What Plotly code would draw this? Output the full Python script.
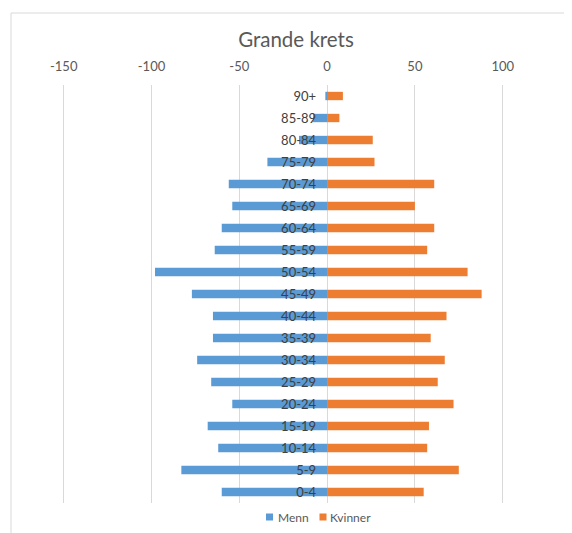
import plotly.graph_objects as go

age_groups = ["0-4", "5-9", "10-14", "15-19", "20-24", "25-29", "30-34", "35-39",
              "40-44", "45-49", "50-54", "55-59", "60-64", "65-69", "70-74",
              "75-79", "80-84", "85-89", "90+"]
menn = [-60, -83, -62, -68, -54, -66, -74, -65, -65, -77, -98, -64, -60, -54, -56,
        -34, -16, -8, -1]
kvinner = [55, 75, 57, 58, 72, 63, 67, 59, 68, 88, 80, 57, 61, 50, 61,
           27, 26, 7, 9]
x_ticks = [-150, -100, -50, 0, 50, 100]
series_names = ["Menn", "Kvinner"]

BLUE = "#5B9BD5"
ORANGE = "#ED7D31"
GRID = "#D9D9D9"
FONT = "Lato"

# page is offset by the default 8px body margin
OFF = 8
W, H = 572 - OFF, 533 - OFF
MT = 85 - OFF
MB = H - (503 - OFF)
ML, MR = 54, 0
PX_PER_UNIT = 1.756
zero_px = 327.1 - OFF
xr = [-(zero_px - ML) / PX_PER_UNIT, (W - MR - zero_px) / PX_PER_UNIT]

pw = W - ML - MR
ph = H - MT - MB


def px_x(p):
    """page x pixel -> paper x"""
    return (p - OFF - ML) / pw


def px_y(p):
    """page y pixel -> paper y"""
    return (H - MB - (p - OFF)) / ph


fig = go.Figure()
fig.add_trace(go.Bar(y=age_groups, x=menn, orientation="h", name=series_names[0],
                     marker=dict(color=BLUE, line=dict(width=0)), width=0.38,
                     showlegend=False))
fig.add_trace(go.Bar(y=age_groups, x=kvinner, orientation="h", name=series_names[1],
                     marker=dict(color=ORANGE, line=dict(width=0)), width=0.38,
                     showlegend=False))

zero_pos = (0 - xr[0]) / (xr[1] - xr[0])

# chart-area border (left and top edges visible in the reference)
shapes = [
    dict(type="line", xref="paper", yref="paper",
         x0=px_x(11), x1=px_x(11), y0=px_y(540), y1=px_y(13),
         line=dict(color=GRID, width=1), layer="below"),
    dict(type="line", xref="paper", yref="paper",
         x0=px_x(11), x1=px_x(580), y0=px_y(13), y1=px_y(13),
         line=dict(color=GRID, width=1), layer="below"),
]
annotations = []
# legend (square marker + label)
for name, color, sq_x, tx_x in [(series_names[0], BLUE, 266, 277),
                                 (series_names[1], ORANGE, 319.5, 329)]:
    shapes.append(dict(type="rect", xref="paper", yref="paper",
                       x0=px_x(sq_x), x1=px_x(sq_x + 7),
                       y0=px_y(520.5), y1=px_y(513.5),
                       line=dict(width=0), fillcolor=color))
    annotations.append(dict(text=name, xref="paper", yref="paper",
                            x=px_x(tx_x), y=px_y(517), xanchor="left",
                            yanchor="middle", showarrow=False,
                            font=dict(size=12, color="#595959", family=FONT),
                            xshift=-1))

fig.update_layout(
    width=W, height=H,
    margin=dict(l=ML, r=MR, t=MT, b=MB, autoexpand=False),
    paper_bgcolor="white", plot_bgcolor="white",
    barmode="overlay",
    showlegend=False,
    font=dict(family=FONT, color="#595959", size=13),
    title=dict(text="Grande krets", x=px_x(296), xref="paper", xanchor="center",
               y=1 - (40 - OFF) / H, yref="container", yanchor="middle",
               font=dict(size=20.5, color="#595959", family=FONT)),
    xaxis=dict(range=xr, side="top", tickvals=x_ticks, ticktext=[str(v) for v in x_ticks],
               showgrid=True, gridcolor=GRID, gridwidth=1,
               zeroline=True, zerolinecolor=GRID, zerolinewidth=1,
               showline=False, ticks="outside", ticklen=8, tickcolor="rgba(0,0,0,0)",
               tickfont=dict(size=13, color="#595959")),
    yaxis=dict(type="category", categoryorder="array", categoryarray=age_groups,
               range=[-0.5, len(age_groups) - 0.5],
               anchor="free", position=zero_pos, showgrid=False, zeroline=False,
               showline=False, ticks="", ticklabelstandoff=11,
               tickfont=dict(size=13, color="#404040")),
    shapes=shapes,
    annotations=annotations,
)

fig.write_html("out.html")
